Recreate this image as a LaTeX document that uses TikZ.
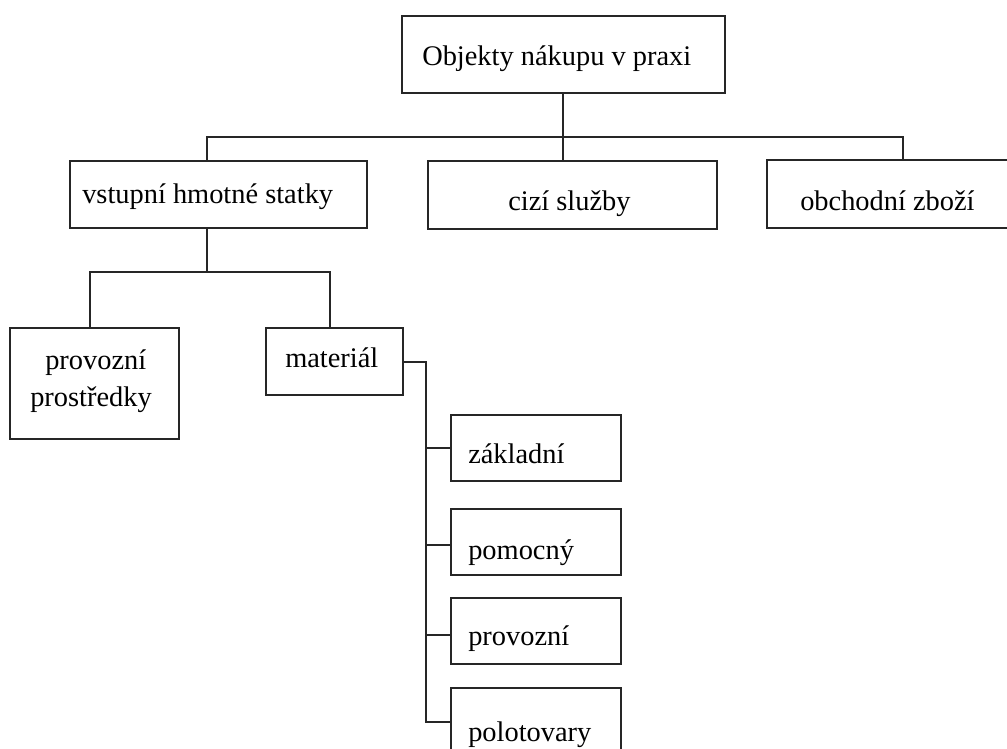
\documentclass[tikz,border=0pt]{standalone}
\usepackage{fontspec}
\setmainfont{Liberation Serif}
\begin{document}
\begin{tikzpicture}[x=0.75pt,y=-0.75pt,
  box/.style={draw=black!85,line width=1.5pt,rectangle,inner sep=0pt,anchor=north west},
  wire/.style={draw=black!85,line width=1.5pt},
  txt/.style={font=\fontsize{21.3pt}{27pt}\selectfont,inner sep=0pt,anchor=base west}]
\useasboundingbox (0,0) rectangle (1007,749);
\begin{scope}
\clip (0,0) rectangle (1007,749);
% boxes: top-left corner, size in px
\node[box,minimum width=323*0.75pt,minimum height=77*0.75pt] (top) at (401,15) {};
\node[box,minimum width=297*0.75pt,minimum height=67*0.75pt] (vst) at (69,160) {};
\node[box,minimum width=289*0.75pt,minimum height=68*0.75pt] (cizi) at (427,160) {};
\node[box,minimum width=280*0.75pt,minimum height=68*0.75pt] (obch) at (766,159) {};
\node[box,minimum width=169*0.75pt,minimum height=111*0.75pt] (prov) at (9,327) {};
\node[box,minimum width=137*0.75pt,minimum height=67*0.75pt] (mat) at (265,327) {};
\node[box,minimum width=170*0.75pt,minimum height=66*0.75pt] (zakl) at (450,414) {};
\node[box,minimum width=170*0.75pt,minimum height=66*0.75pt] (pomoc) at (450,508) {};
\node[box,minimum width=170*0.75pt,minimum height=66*0.75pt] (provo) at (450,597) {};
\node[box,minimum width=170*0.75pt,minimum height=90*0.75pt] (polot) at (450,687) {};

% labels
\node[txt] (tTop) at (422,65) {Objekty nákupu v praxi};
\node[txt] (tVst) at (82,203) {vstupní hmotné statky};
\node[txt] (tCizi) at (508,210) {cizí služby};
\node[txt] (tObch) at (800,210) {obchodní zboží};
\node[txt] (tProv1) at (45,369) {provozní};
\node[txt] (tProv2) at (30,406) {prostředky};
\node[txt] (tMat) at (285,367) {materiál};
\node[txt] (tZakl) at (468,463) {základní};
\node[txt] (tPomoc) at (468,559) {pomocný};
\node[txt] (tProvo) at (468,645) {provozní};
\node[txt] (tPolot) at (468,741) {polotovary};

% first level
\coordinate (bus1) at (563,137);
\draw[wire] (top.south -| bus1) -- (cizi.north -| bus1);
\draw[wire] (vst.north -| 207,0) |- (bus1) -| (obch.north -| 903,0);

% second level
\coordinate (bus2) at (207,272);
\draw[wire] (vst.south -| bus2) -- (bus2);
\draw[wire] (prov.north -| 90,0) |- (bus2) -| (mat.north -| 330,0);

% material branches
\coordinate (m1) at (mat.east -| 426,0);
\coordinate (m2) at (426,722);
\draw[wire] (mat.east) -- (m1) -- (m2) -- (m2 -| polot.west);
\draw[wire] (m1 |- zakl.west) -- (zakl.west);
\draw[wire] ([yshift=-2.25pt]m1 |- pomoc.west) -- ([yshift=-2.25pt]pomoc.west);
\draw[wire] ([yshift=-3pt]m1 |- provo.west) -- ([yshift=-3pt]provo.west);
\end{scope}
\end{tikzpicture}
\end{document}
